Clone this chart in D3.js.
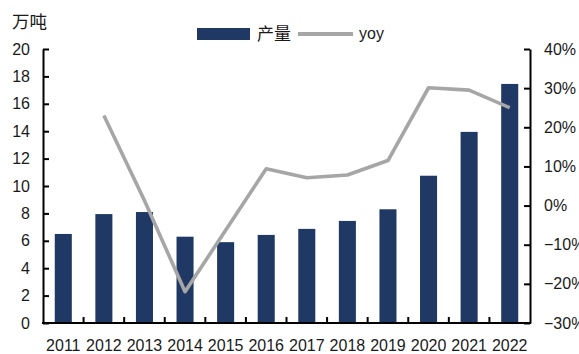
<!DOCTYPE html>
<html>
<head>
<meta charset="utf-8">
<script src="https://cdn.jsdelivr.net/npm/d3@7/dist/d3.min.js"></script>
<style>
  html, body { margin: 0; padding: 0; background: #fff; }
  svg { display: block; }
  text { font-family: "Liberation Sans", Arial, "Noto Sans CJK SC", sans-serif; fill: #1a1a1a; }
</style>
</head>
<body>
<svg id="chart" width="579" height="354"></svg>
<script>
// Annual output (万吨) and year-on-year growth (%)
const years = ["2011", "2012", "2013", "2014", "2015", "2016", "2017", "2018", "2019", "2020", "2021", "2022"];
const output = [6.5, 7.95, 8.1, 6.3, 5.9, 6.43, 6.87, 7.45, 8.3, 10.75, 13.95, 17.45];
const yoy = [null, 23, 1.3, -22, -6.3, 9.4, 7.1, 7.8, 11.5, 30.1, 29.5, 25];
const leftTicks = [0, 2, 4, 6, 8, 10, 12, 14, 16, 18, 20];
const rightTicks = [-30, -20, -10, 0, 10, 20, 30, 40];
const seriesNames = ["产量", "yoy"];
const unitLabel = "万吨";

const barColor = "#203864";
const lineColor = "#a6a6a6";

const svg = d3.select("#chart");
const plotL = 43, plotR = 530, plotT = 49, plotB = 323;

const x = d3.scaleBand().domain(years).range([plotL, plotR]).paddingInner(0.58).paddingOuter(0.29);
const yL = d3.scaleLinear().domain([0, 20]).range([plotB, plotT]);
const yR = d3.scaleLinear().domain([-30, 40]).range([plotB, plotT]);

// bars
svg.append("g").selectAll("rect").data(output).join("rect")
  .attr("x", (d, i) => x(years[i]))
  .attr("y", d => yL(d))
  .attr("width", x.bandwidth())
  .attr("height", d => yL(0) - yL(d))
  .attr("fill", barColor);

// growth line
const line = d3.line()
  .defined(d => d.v !== null)
  .x(d => x(d.year) + x.bandwidth() / 2)
  .y(d => yR(d.v));
svg.append("path")
  .datum(years.map((year, i) => ({ year, v: yoy[i] })))
  .attr("d", line)
  .attr("fill", "none")
  .attr("stroke", lineColor)
  .attr("stroke-width", 3.6)
  .attr("stroke-linejoin", "round");

// left axis
const axL = svg.append("g").attr("transform", `translate(${plotL},0)`)
  .call(d3.axisLeft(yL).tickValues(leftTicks).tickSizeInner(-6).tickSizeOuter(0).tickPadding(13));
// right axis
const axR = svg.append("g").attr("transform", `translate(${plotR},0)`)
  .call(d3.axisRight(yR).tickValues(rightTicks).tickSizeInner(-6).tickSizeOuter(0).tickPadding(14)
    .tickFormat(d => (d < 0 ? "\u2212" + Math.abs(d) : d) + "%"));
// bottom axis: ticks sit between categories, pointing up
const axB = svg.append("g").attr("transform", `translate(0,${plotB})`)
  .call(d3.axisBottom(x).tickSize(0).tickPadding(17));
axB.selectAll(".tick text").attr("dy", "0.71em");
const step = x.step();
axB.selectAll("line.sep").data(d3.range(1, years.length)).join("line")
  .attr("class", "sep")
  .attr("x1", i => plotL + i * step).attr("x2", i => plotL + i * step)
  .attr("y1", 0).attr("y2", -6)
  .attr("stroke", "#000").attr("stroke-width", 2);

[axL, axR, axB].forEach(g => {
  g.selectAll(".domain").attr("stroke", "#000").attr("stroke-width", 2);
  g.selectAll(".tick line").attr("stroke", "#000").attr("stroke-width", 2);
  g.selectAll(".tick text").attr("font-size", 16).attr("fill", "#1a1a1a");
});
axB.select(".domain").attr("d", `M${plotL - 1},0H${plotR + 1}`);

// unit label
svg.append("text").attr("x", 12).attr("y", 28).attr("font-size", 17.5).text(unitLabel);

// legend
const lg = svg.append("g");
lg.append("rect").attr("x", 197).attr("y", 28).attr("width", 53).attr("height", 12).attr("fill", barColor);
lg.append("text").attr("x", 257).attr("y", 40).attr("font-size", 17).text(seriesNames[0]);
lg.append("line").attr("x1", 298).attr("x2", 353).attr("y1", 34).attr("y2", 34)
  .attr("stroke", lineColor).attr("stroke-width", 4);
lg.append("text").attr("x", 359).attr("y", 39).attr("font-size", 16).text(seriesNames[1]);
</script>
</body>
</html>
